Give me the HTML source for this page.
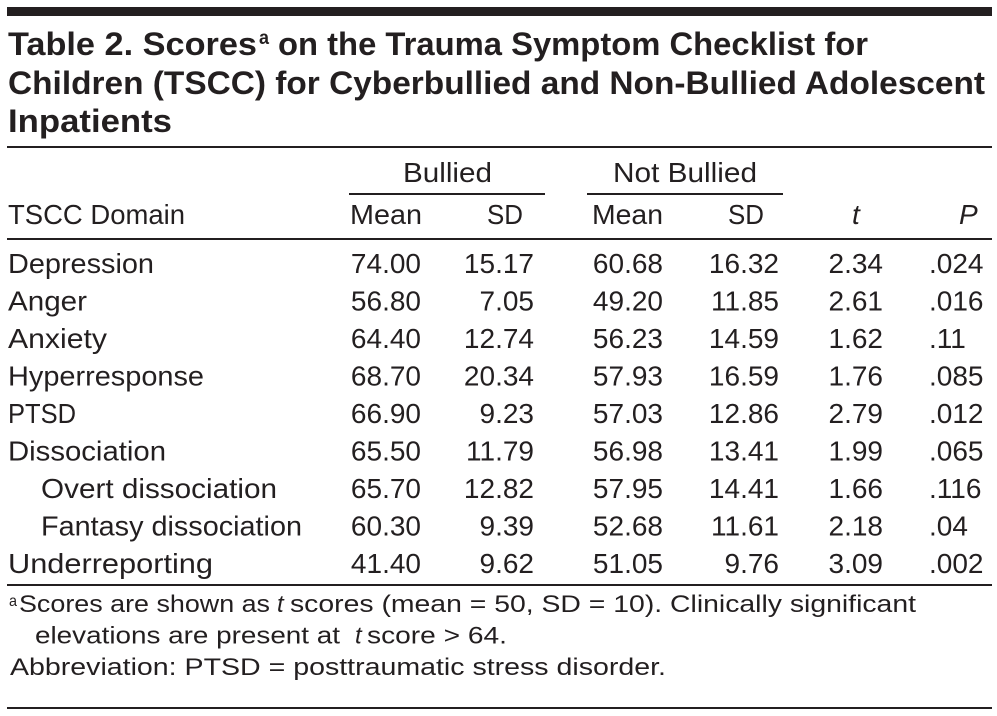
<!DOCTYPE html>
<html>
<head>
<meta charset="utf-8">
<style>
  html, body { margin: 0; padding: 0; background: #ffffff; }
  body { width: 997px; height: 716px; overflow: hidden; }
  svg { display: block; }
  text { font-family: "Liberation Sans", "DejaVu Sans", sans-serif; fill: #231f20; }
  .t { font-weight: bold; font-size: 32px; }
  .b { font-size: 28px; }
  .n { font-size: 28px; text-anchor: end; }
  .f { font-size: 24px; }
  .i { font-style: italic; }
</style>
</head>
<body>
<svg width="997" height="716" viewBox="0 0 997 716" xmlns="http://www.w3.org/2000/svg">
  <!-- top thick bar -->
  <rect x="7" y="7" width="985" height="9" fill="#231f20"/>

  <!-- title -->
  <text class="t" x="8" y="55" textLength="249" lengthAdjust="spacingAndGlyphs">Table 2. Scores</text>
  <text x="259" y="44" style="font-size:19px;font-weight:bold" textLength="10" lengthAdjust="spacingAndGlyphs">a</text>
  <text class="t" x="278" y="55" textLength="590" lengthAdjust="spacingAndGlyphs">on the Trauma Symptom Checklist for</text>
  <text class="t" x="8" y="94" textLength="977" lengthAdjust="spacingAndGlyphs">Children (TSCC) for Cyberbullied and Non-Bullied Adolescent</text>
  <text class="t" x="8" y="132" textLength="164" lengthAdjust="spacingAndGlyphs">Inpatients</text>

  <!-- rule under title -->
  <rect x="7" y="146" width="985" height="2" fill="#231f20"/>

  <!-- group headers -->
  <text class="b" x="403" y="182" textLength="89" lengthAdjust="spacingAndGlyphs">Bullied</text>
  <rect x="349" y="193" width="196" height="2" fill="#231f20"/>
  <text class="b" x="613" y="182" textLength="144" lengthAdjust="spacingAndGlyphs">Not Bullied</text>
  <rect x="587" y="193" width="196" height="2" fill="#231f20"/>

  <!-- column headers -->
  <text class="b" x="8" y="224" textLength="177" lengthAdjust="spacingAndGlyphs">TSCC Domain</text>
  <text class="b" x="350" y="224" textLength="72" lengthAdjust="spacingAndGlyphs">Mean</text>
  <text class="b" x="487" y="224" textLength="36" lengthAdjust="spacingAndGlyphs">SD</text>
  <text class="b" x="592" y="224" textLength="71" lengthAdjust="spacingAndGlyphs">Mean</text>
  <text class="b" x="728" y="224" textLength="36" lengthAdjust="spacingAndGlyphs">SD</text>
  <text class="b i" x="852" y="224">t</text>
  <text class="b i" x="959" y="224">P</text>

  <!-- rule under header -->
  <rect x="7" y="238" width="985" height="2" fill="#231f20"/>

  <!-- data rows -->
  <g>
    <text class="b" x="8" y="273" textLength="146" lengthAdjust="spacingAndGlyphs">Depression</text>
    <text class="n" x="421" y="273">74.00</text>
    <text class="n" x="534" y="273">15.17</text>
    <text class="n" x="663" y="273">60.68</text>
    <text class="n" x="779" y="273">16.32</text>
    <text class="n" x="883" y="273">2.34</text>
    <text class="b" x="929" y="273">.024</text>
  </g>
  <g>
    <text class="b" x="8" y="310.5" textLength="79" lengthAdjust="spacingAndGlyphs">Anger</text>
    <text class="n" x="421" y="310.5">56.80</text>
    <text class="n" x="534" y="310.5">7.05</text>
    <text class="n" x="663" y="310.5">49.20</text>
    <text class="n" x="779" y="310.5">11.85</text>
    <text class="n" x="883" y="310.5">2.61</text>
    <text class="b" x="929" y="310.5">.016</text>
  </g>
  <g>
    <text class="b" x="8" y="348" textLength="99" lengthAdjust="spacingAndGlyphs">Anxiety</text>
    <text class="n" x="421" y="348">64.40</text>
    <text class="n" x="534" y="348">12.74</text>
    <text class="n" x="663" y="348">56.23</text>
    <text class="n" x="779" y="348">14.59</text>
    <text class="n" x="883" y="348">1.62</text>
    <text class="b" x="929" y="348">.11</text>
  </g>
  <g>
    <text class="b" x="8" y="385.5" textLength="196" lengthAdjust="spacingAndGlyphs">Hyperresponse</text>
    <text class="n" x="421" y="385.5">68.70</text>
    <text class="n" x="534" y="385.5">20.34</text>
    <text class="n" x="663" y="385.5">57.93</text>
    <text class="n" x="779" y="385.5">16.59</text>
    <text class="n" x="883" y="385.5">1.76</text>
    <text class="b" x="929" y="385.5">.085</text>
  </g>
  <g>
    <text class="b" x="8" y="423" textLength="68" lengthAdjust="spacingAndGlyphs">PTSD</text>
    <text class="n" x="421" y="423">66.90</text>
    <text class="n" x="534" y="423">9.23</text>
    <text class="n" x="663" y="423">57.03</text>
    <text class="n" x="779" y="423">12.86</text>
    <text class="n" x="883" y="423">2.79</text>
    <text class="b" x="929" y="423">.012</text>
  </g>
  <g>
    <text class="b" x="8" y="460.5" textLength="158" lengthAdjust="spacingAndGlyphs">Dissociation</text>
    <text class="n" x="421" y="460.5">65.50</text>
    <text class="n" x="534" y="460.5">11.79</text>
    <text class="n" x="663" y="460.5">56.98</text>
    <text class="n" x="779" y="460.5">13.41</text>
    <text class="n" x="883" y="460.5">1.99</text>
    <text class="b" x="929" y="460.5">.065</text>
  </g>
  <g>
    <text class="b" x="41" y="498" textLength="236" lengthAdjust="spacingAndGlyphs">Overt dissociation</text>
    <text class="n" x="421" y="498">65.70</text>
    <text class="n" x="534" y="498">12.82</text>
    <text class="n" x="663" y="498">57.95</text>
    <text class="n" x="779" y="498">14.41</text>
    <text class="n" x="883" y="498">1.66</text>
    <text class="b" x="929" y="498">.116</text>
  </g>
  <g>
    <text class="b" x="41" y="535.5" textLength="261" lengthAdjust="spacingAndGlyphs">Fantasy dissociation</text>
    <text class="n" x="421" y="535.5">60.30</text>
    <text class="n" x="534" y="535.5">9.39</text>
    <text class="n" x="663" y="535.5">52.68</text>
    <text class="n" x="779" y="535.5">11.61</text>
    <text class="n" x="883" y="535.5">2.18</text>
    <text class="b" x="929" y="535.5">.04</text>
  </g>
  <g>
    <text class="b" x="8" y="573" textLength="205" lengthAdjust="spacingAndGlyphs">Underreporting</text>
    <text class="n" x="421" y="573">41.40</text>
    <text class="n" x="534" y="573">9.62</text>
    <text class="n" x="663" y="573">51.05</text>
    <text class="n" x="779" y="573">9.76</text>
    <text class="n" x="883" y="573">3.09</text>
    <text class="b" x="929" y="573">.002</text>
  </g>

  <!-- rule under table body -->
  <rect x="7" y="584" width="985" height="2" fill="#231f20"/>

  <!-- footnotes -->
  <text x="9" y="606" style="font-size:16px" textLength="8" lengthAdjust="spacingAndGlyphs">a</text>
  <text class="f" x="19" y="612" textLength="251" lengthAdjust="spacingAndGlyphs">Scores are shown as</text>
  <text class="f i" x="277" y="612">t</text>
  <text class="f" x="290" y="612" textLength="626" lengthAdjust="spacingAndGlyphs">scores (mean = 50, SD = 10). Clinically significant</text>

  <text class="f" x="35" y="643.5" textLength="305" lengthAdjust="spacingAndGlyphs">elevations are present at</text>
  <text class="f i" x="355" y="643.5">t</text>
  <text class="f" x="367" y="643.5" textLength="140" lengthAdjust="spacingAndGlyphs">score &gt; 64.</text>

  <text class="f" x="10" y="675" textLength="656" lengthAdjust="spacingAndGlyphs">Abbreviation: PTSD = posttraumatic stress disorder.</text>

  <!-- bottom rule -->
  <rect x="7" y="707" width="985" height="2" fill="#231f20"/>
</svg>
</body>
</html>
